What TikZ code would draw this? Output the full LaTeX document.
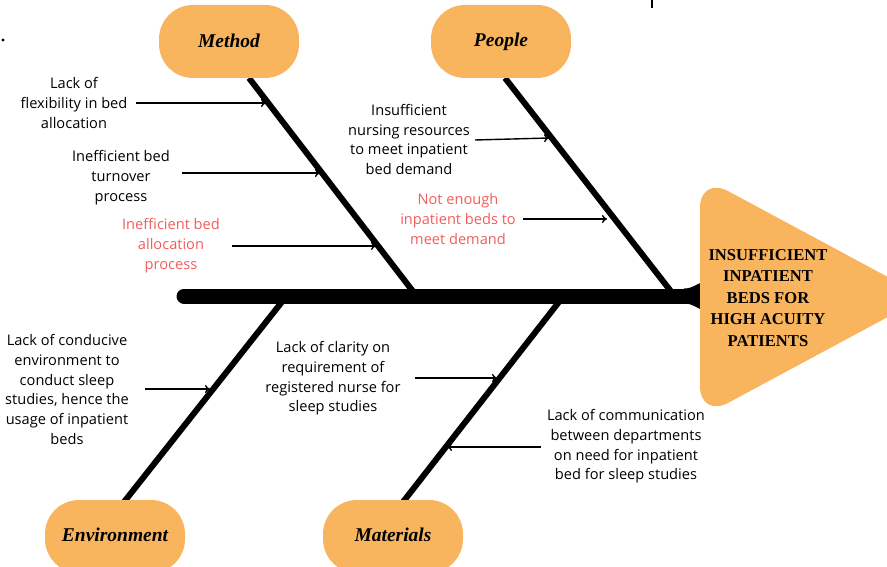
\documentclass[tikz,border=0pt]{standalone}
\usepackage{fontspec}
\setmainfont{Open Sans}
\newfontfamily\titlefont{Liberation Serif}
\usetikzlibrary{arrows.meta}
\definecolor{fishorange}{HTML}{F8B55E}
\definecolor{causered}{HTML}{F25C5C}
\begin{document}
\begin{tikzpicture}[x=1pt,y=-1pt,
  cat/.style={fill=fishorange, rounded corners=34pt, minimum width=140pt, minimum height=73pt,
    font=\titlefont\bfseries\itshape\fontsize{19.5}{21}\selectfont, inner sep=0pt},
  cause/.style={align=center, font=\fontsize{14.6}{19.7}\selectfont, inner sep=0pt},
  redcause/.style={cause, text=causered},
  bone/.style={line width=6pt},
  arr/.style={line width=1.4pt, -{To[length=5pt,width=8pt]}},
  headtext/.style={align=center, font=\titlefont\bfseries\fontsize{16.6}{21.5}\selectfont, inner sep=0pt}
]
\useasboundingbox (0,0) rectangle (887,567);

% small marks
\fill (3,40) circle (1.6pt);
\draw[line width=1.5pt] (652,0) -- (652,8);

% bone end coordinates
\coordinate (mTop) at (249,78);   \coordinate (mBot) at (415,294);
\coordinate (pTop) at (505,78);   \coordinate (pBot) at (673,294);
\coordinate (eTop) at (285,298);  \coordinate (eBot) at (124,502);
\coordinate (aTop) at (562,298);  \coordinate (aBot) at (403,502);

% bones
\draw[bone] (mTop) -- (mBot);
\draw[bone] (pTop) -- (pBot);
\draw[bone] (eTop) -- (eBot);
\draw[bone] (aTop) -- (aBot);

% spine
\coordinate (spL) at (184,296);
\coordinate (spR) at (700,296);
\draw[line width=15pt, line cap=round] (spL) -- (spR);
\fill (684,288.5) .. controls (693,288.5) and (696,284) .. (703,282) -- (703,310) .. controls (696,308) and (693,303.5) .. (684,303.5) -- cycle;

% head
\fill[fishorange, rounded corners=32pt] (700,176) -- (925,297) -- (700,418) -- cycle;
\node[headtext] (head) at (768,298) {INSUFFICIENT\\INPATIENT\\BEDS FOR\\HIGH ACUITY\\PATIENTS};

% category nodes
\node[cat] (method) at (229,41.5) {\raisebox{1pt}{Method}};
\node[cat] (people) at (501,41.5) {\raisebox{1.5pt}{People}};
\node[cat] (env) at (115,536.5) {\raisebox{3.5pt}{Environment}};
\node[cat] (mat) at (393,536.5) {\raisebox{3.5pt}{Materials}};

% causes
\node[cause] (c1) at (74,103) {Lack of\\flexibility in bed\\allocation};
\node[cause] (c2) at (121,177.5) {Inefficient bed\\turnover\\process};
\node[redcause] (c3) at (171,245.5) {Inefficient bed\\allocation\\process};
\node[cause] (c4) at (409,139.5) {Insufficient\\nursing resources\\to meet inpatient\\bed demand};
\node[redcause] (c5) at (458,219) {Not enough\\inpatient beds to\\meet demand};
\node[cause] (c6) at (67,389.5) {Lack of conducive\\environment to\\conduct sleep\\studies, hence the\\usage of inpatient\\beds};
\node[cause] (c7) at (333,378.5) {Lack of clarity on\\requirement of\\registered nurse for\\sleep studies};
\node[cause] (c8) at (626,446.5) {Lack of communication\\between departments\\on need for inpatient\\bed for sleep studies};

% arrow coordinates
\coordinate (a1s) at (136,103); \coordinate (a1e) at (266,103);
\coordinate (a2s) at (182,173); \coordinate (a2e) at (320,173);
\coordinate (a3s) at (232,246); \coordinate (a3e) at (376,246);
\coordinate (a4s) at (475,140); \coordinate (a4e) at (549,138);
\coordinate (a5s) at (523,219); \coordinate (a5e) at (607,219);
\coordinate (a6s) at (145,389); \coordinate (a6e) at (210,389);
\coordinate (a7s) at (415,378); \coordinate (a7e) at (497,378);
\coordinate (a8s) at (541,447); \coordinate (a8e) at (447,447);

\draw[arr] (a1s) -- (a1e);
\draw[arr] (a2s) -- (a2e);
\draw[arr] (a3s) -- (a3e);
\draw[arr] (a4s) -- (a4e);
\draw[arr] (a5s) -- (a5e);
\draw[arr] (a6s) -- (a6e);
\draw[arr] (a7s) -- (a7e);
\draw[arr] (a8s) -- (a8e);
\end{tikzpicture}
\end{document}
